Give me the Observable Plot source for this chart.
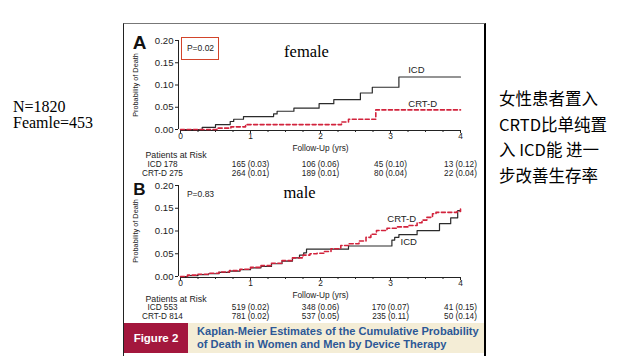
<!DOCTYPE html>
<html><head><meta charset="utf-8">
<script src="https://cdn.jsdelivr.net/npm/d3@7"></script>
<script src="https://cdn.jsdelivr.net/npm/@observablehq/plot@0.6"></script>
<style>
body{margin:0;width:624px;height:359px;position:relative;background:#fff;overflow:hidden;font-family:"Liberation Sans",Arial,sans-serif}
.abs{position:absolute}
</style></head><body>
<div class="abs" style="left:13px;top:99px;font:16px/16px 'Liberation Serif',serif;color:#000">N=1820<br>Feamle=453</div>
<div class="abs" style="left:499px;top:86px;font:16.5px/25.5px 'Noto Sans CJK SC',sans-serif;color:#000;white-space:pre">女性患者置入
CRTD比单纯置
入 ICD能 进一
步改善生存率</div>
<div class="abs" style="left:123px;top:23px;width:363px;height:333px;border-left:1.5px solid #222;border-top:1px solid #777;border-right:2px solid #000;box-sizing:border-box"></div>
<div id="pa" class="abs" style="left:124px;top:24px"></div>
<div id="pb" class="abs" style="left:124px;top:176px"></div>
<div class="abs" style="left:181px;top:37px;width:38px;height:23px;border:1px solid #d2442a;box-sizing:border-box"></div>
<div class="abs" style="left:124px;top:323px;width:64px;height:30px;background:#a3173d;color:#fff;font:bold 11.5px/30px 'Liberation Sans',sans-serif;text-align:center">Figure 2</div>
<div class="abs" style="left:188px;top:323px;width:296px;height:30px;background:#f4edd6;color:#2c5896;font:bold 11.1px/13px 'Liberation Sans',sans-serif;padding:2px 0 0 9px;box-sizing:border-box;white-space:pre">Kaplan-Meier Estimates of the Cumulative Probability
of Death in Women and Men by Device Therapy</div>
<script>
// ---- data ----
const years = [0, 1, 2, 3, 4];
const yTicks = [0, 0.05, 0.10, 0.15, 0.20];
// Female (panel A)
const femaleICD_t = [0, 0.31, 0.50, 0.71, 0.76, 0.90, 1.33, 1.38, 1.62, 1.98, 2.19, 2.57, 2.74, 3.12, 4.0];
const femaleICD_p = [0, 0.005, 0.011, 0.018, 0.023, 0.029, 0.035, 0.041, 0.048, 0.058, 0.067, 0.082, 0.095, 0.118, 0.118];
const femaleCRT_t = [0, 0.52, 0.72, 0.93, 2.24, 2.30, 2.40, 2.79, 4.0];
const femaleCRT_p = [0, 0.003, 0.006, 0.011, 0.011, 0.017, 0.023, 0.044, 0.044];
// Male (panel B)
const maleICD_t = [0, 0.10, 0.25, 0.40, 0.55, 0.70, 0.85, 1.00, 1.15, 1.30, 1.45, 1.60, 1.70, 1.76, 1.80, 2.40, 3.02, 3.06, 3.12, 3.38, 3.70, 3.86, 3.96, 4.0];
const maleICD_p = [0, 0.002, 0.004, 0.006, 0.009, 0.012, 0.015, 0.019, 0.022, 0.028, 0.034, 0.041, 0.047, 0.052, 0.060, 0.067, 0.080, 0.086, 0.092, 0.101, 0.116, 0.129, 0.145, 0.145];
const maleCRT_t = [0, 0.10, 0.25, 0.40, 0.55, 0.70, 0.85, 1.00, 1.15, 1.30, 1.45, 1.60, 1.75, 1.85, 1.95, 2.05, 2.15, 2.29, 2.40, 2.55, 2.65, 2.72, 2.80, 2.95, 3.10, 3.25, 3.38, 3.45, 3.52, 3.60, 3.65, 3.95, 4.0];
const maleCRT_p = [0, 0.003, 0.005, 0.007, 0.010, 0.013, 0.016, 0.020, 0.024, 0.029, 0.035, 0.041, 0.047, 0.050, 0.051, 0.055, 0.061, 0.068, 0.072, 0.078, 0.086, 0.093, 0.101, 0.106, 0.109, 0.112, 0.118, 0.124, 0.130, 0.138, 0.141, 0.143, 0.148];
// Patients at risk tables
const riskYears = [1, 2, 3, 4];
const femaleICDRisk = ["165 (0.03)", "106 (0.06)", "45 (0.10)", "13 (0.12)"];
const femaleCRTRisk = ["264 (0.01)", "189 (0.01)", "80 (0.04)", "22 (0.04)"];
const maleICDRisk = ["519 (0.02)", "348 (0.06)", "170 (0.07)", "41 (0.15)"];
const maleCRTRisk = ["781 (0.02)", "537 (0.05)", "235 (0.11)", "50 (0.14)"];

const zip = (t, p) => t.map((v, i) => ({t: v, p: p[i]}));
const rows = (labels) => riskYears.map((y, i) => ({year: y, label: labels[i]}));

function panel(o) {
  const ink = "#222";
  const fs = 8.2;
  return Plot.plot({
    width: 362, height: o.height,
    marginLeft: 56, marginRight: 26, marginTop: o.mt, marginBottom: o.mb,
    style: {fontFamily: "Liberation Sans, Arial, sans-serif", overflow: "visible", background: "transparent", color: ink},
    x: {domain: [0, 4]},
    y: {domain: [0, 0.2]},
    marks: [
      Plot.ruleX([0], {y1: 0, y2: 0.2, dx: -2, stroke: ink, strokeWidth: 1}),
      Plot.ruleY([0], {x1: 0, x2: 4, dy: 1, stroke: ink, strokeWidth: 1}),
      Plot.axisY({ticks: yTicks, tickFormat: d3.format(".2f"), tickSize: 3, tickPadding: 2, dx: -2, fontSize: 9.6, label: null, stroke: ink}),
      Plot.axisX({ticks: d3.range(0, 4.001, 0.25), tickSize: 2, tickFormat: () => "", dy: 1, label: null}),
      Plot.axisX({ticks: years, tickSize: 3, tickPadding: 0, dy: 1, fontSize: 8.4, tickFormat: d3.format("d"), label: null}),
      Plot.line(zip(o.icd_t, o.icd_p), {x: "t", y: "p", curve: "step-after", stroke: "#2b2b2b", strokeWidth: 1.2}),
      Plot.line(zip(o.crt_t, o.crt_p), {x: "t", y: "p", curve: "step-after", stroke: "#d2233c", strokeWidth: 1.6, strokeDasharray: "4,2.5"}),
      Plot.text(["ICD"], {x: o.icdLab[0], y: o.icdLab[1], fontSize: 9.5, fill: ink}),
      Plot.text(["CRT-D"], {x: o.crtLab[0], y: o.crtLab[1], fontSize: 9.5, fill: ink}),
      Plot.text([o.letter], {frameAnchor: "top-left", dx: -41, dy: o.letterDy, lineAnchor: "middle", textAnchor: "middle", fontSize: o.letterSize, fontWeight: "bold", fill: "#111"}),
      Plot.text([o.p], {frameAnchor: "top-left", dx: 20, dy: o.pDy, lineAnchor: "middle", textAnchor: "middle", fontSize: 8.5, fill: ink}),
      Plot.text([o.title], {frameAnchor: "top-left", dx: o.titleDx, dy: o.titleDy, lineAnchor: "middle", textAnchor: "middle", fontSize: 16.5, fontFamily: "Liberation Serif, serif", fill: "#000"}),
      Plot.text(["Probability of Death"], {frameAnchor: "left", dx: -45, rotate: -90, lineAnchor: "middle", textAnchor: "middle", fontSize: 7.3, fill: ink}),
      Plot.text(["Follow-Up (yrs)"], {frameAnchor: "bottom", dy: o.fuDy, lineAnchor: "middle", textAnchor: "middle", fontSize: 8.3, fill: ink}),
      Plot.text(["Patients at Risk"], {frameAnchor: "bottom-left", dx: -35, dy: o.parDy, lineAnchor: "middle", textAnchor: "start", fontSize: 8.8, fill: ink}),
      Plot.text([o.icdN], {frameAnchor: "bottom-left", dx: -18, dy: o.r1, lineAnchor: "middle", textAnchor: "middle", fontSize: fs, fill: ink}),
      Plot.text([o.crtN], {frameAnchor: "bottom-left", dx: -18, dy: o.r2, lineAnchor: "middle", textAnchor: "middle", fontSize: fs, fill: ink}),
      Plot.text(rows(o.icdRisk), {x: "year", text: "label", frameAnchor: "bottom", dy: o.r1, lineAnchor: "middle", textAnchor: "middle", fontSize: fs, fill: ink}),
      Plot.text(rows(o.crtRisk), {x: "year", text: "label", frameAnchor: "bottom", dy: o.r2, lineAnchor: "middle", textAnchor: "middle", fontSize: fs, fill: ink})
    ]
  });
}

document.getElementById("pa").append(panel({
  height: 152, mt: 16, mb: 47,
  icd_t: femaleICD_t, icd_p: femaleICD_p, crt_t: femaleCRT_t, crt_p: femaleCRT_p,
  icdLab: [3.37, 0.133], crtLab: [3.46, 0.058],
  letter: "A", letterDy: 2, letterSize: 19, p: "P=0.02", pDy: 8,
  title: "female", titleDx: 126, titleDy: 11,
  fuDy: 18.8, parDy: 25.5, r1: 34.5, r2: 43.5,
  icdN: "ICD 178", crtN: "CRT-D 275", icdRisk: femaleICDRisk, crtRisk: femaleCRTRisk
}));
document.getElementById("pb").append(panel({
  height: 142, mt: 9, mb: 42,
  icd_t: maleICD_t, icd_p: maleICD_p, crt_t: maleCRT_t, crt_p: maleCRT_p,
  icdLab: [3.26, 0.077], crtLab: [3.16, 0.127],
  letter: "B", letterDy: 4, letterSize: 17, p: "P=0.83", pDy: 9,
  title: "male", titleDx: 119, titleDy: 7,
  fuDy: 18.8, parDy: 22.5, r1: 31, r2: 39.5,
  icdN: "ICD 553", crtN: "CRT-D 814", icdRisk: maleICDRisk, crtRisk: maleCRTRisk
}));
</script>
</body></html>
